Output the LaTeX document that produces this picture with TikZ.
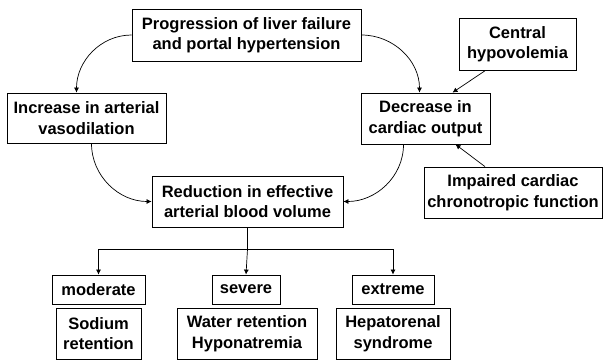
\documentclass[tikz,border=0pt]{standalone}
\usepackage{fontspec}
\setmainfont{Liberation Sans}
\usetikzlibrary{arrows.meta}

\begin{document}
\begin{tikzpicture}[x=1pt,y=1pt]
\tikzset{box/.style=
            {draw,line width=0.8pt,align=center,inner sep=0pt,
             font=\fontsize{16.5}{20.5}\selectfont\bfseries},
         link/.style=
            {line width=0.7pt,-{Latex[length=5pt,width=5pt]}}}
\useasboundingbox (0,0) rectangle (604,360);
% upper part
\node[box,minimum width=229,minimum height=52] (prog) at (246.5,325)
    {Progression of liver failure\\and portal hypertension};
\node[box,minimum width=117,minimum height=52] (central) at (517.5,316)
    {Central\\hypovolemia};
\node[box,minimum width=159,minimum height=50] (incr) at (86.5,242)
    {Increase in arterial\\vasodilation};
\node[box,minimum width=129,minimum height=51] (decr) at (425.5,241.5)
    {Decrease in\\cardiac output};
\node[box,minimum width=178,minimum height=51] (impaired) at (513,167.5)
    {Impaired cardiac\\chronotropic function};
\node[box,minimum width=191,minimum height=51] (reduc) at (247.5,158.5)
    {Reduction in effective\\arterial blood volume};
% lower part
\node[box,minimum width=93,minimum height=29] (moderate) at (98.5,70.5) {moderate};
\node[box,minimum width=68,minimum height=29] (severe) at (246,70.5) {severe};
\node[box,minimum width=82,minimum height=29] (extreme) at (393,70.5) {extreme};
\node[box,minimum width=85,minimum height=51] (sodium) at (98.5,26.5)
    {Sodium\\retention};
\node[box,minimum width=140,minimum height=51] (water) at (247,26.5)
    {Water retention\\Hyponatremia};
\node[box,minimum width=114,minimum height=51] (hepato) at (393,26.5)
    {Hepatorenal\\syndrome};
\coordinate (split) at (247.5,111);

\draw[link] (prog.west) to[out=180,in=90] ([xshift=-10pt]incr.north);
\draw[link] (prog.east) to[out=0,in=90] ([xshift=-6pt]decr.north);
\draw[link] ([xshift=-32pt]central.south) -- ([xshift=27pt]decr.north);
\draw[link] ([xshift=-28pt]impaired.north) -- ([xshift=30pt]decr.south);
\draw[link] ([xshift=5pt]incr.south) to[out=-90,in=180] (reduc.west);
\draw[link] ([xshift=-22pt]decr.south) to[out=-90,in=0] (reduc.east);
\draw[line width=0.7pt] (reduc.south) -- (split);
\draw[link] (split) -| (moderate.north);
\draw[link] (split) -- (severe.north);
\draw[link] (split) -| (extreme.north);
\end{tikzpicture}
\end{document}
